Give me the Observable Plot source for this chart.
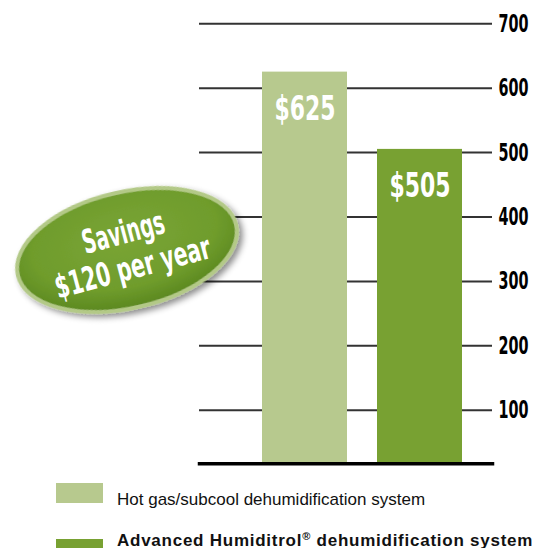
<!DOCTYPE html>
<html><head><meta charset="utf-8">
<script src="https://cdn.jsdelivr.net/npm/d3@7"></script>
<script src="https://cdn.jsdelivr.net/npm/@observablehq/plot@0.6"></script>
<style>
body{margin:0;background:#fff;}
#wrap{position:relative;width:548px;height:548px;overflow:hidden;background:#fff;}
#wrap svg{display:block;}
</style></head><body><div id="wrap"></div>
<script>
const systems = ["Hot gas/subcool dehumidification system", "Advanced Humiditrol® dehumidification system"];
const costs = [625, 505];
const costLabels = ["$625", "$505"];
const colors = ["#b7c98e", "#78a132"];
const yTicks = [100, 200, 300, 400, 500, 600, 700];
const savingsLines = ["Savings", "$120 per year"];
const legendWeights = ["normal", "bold"];

const data = systems.map((s, i) => ({system: s, cost: costs[i], label: costLabels[i]}));
const condensed = '"Liberation Sans Narrow","DejaVu Sans Condensed","Roboto Condensed",sans-serif';

const plot = Plot.plot({
  width: 548, height: 470,
  marginLeft: 199, marginRight: 56, marginTop: 0, marginBottom: 6.7,
  x: {type: "band", domain: systems, range: [232.4, 492.3], padding: 0.26, axis: null},
  y: {domain: [16.8, 736.2], axis: null},
  color: {domain: systems, range: colors},
  style: {background: "#fff", overflow: "visible"},
  marks: [
    Plot.ruleY(yTicks, {stroke: "#333", strokeWidth: 2}),
    Plot.barY(data, {x: "system", y: "cost", fill: "system", clip: true}),
    Plot.frame({anchor: "bottom", stroke: "#000", strokeWidth: 3.5}),
    Plot.axisY(yTicks, {anchor: "right", label: null, tickSize: 0, tickPadding: 6, fontSize: 25, fontWeight: "bold",
      fontFamily: condensed, fill: "#000", textAnchor: "start"}),
    Plot.text(data, {x: "system", y: "cost", text: "label", dy: 37, fill: "#fff", fontSize: 34,
      fontWeight: "bold", fontFamily: condensed, lineAnchor: "middle"})
  ]
});

const svg = d3.select(plot);
// compress condensed text to match the narrow display face
svg.selectAll('g[aria-label="y-axis tick label"] text').attr("textLength", 30).attr("lengthAdjust", "spacingAndGlyphs");
svg.selectAll('g[aria-label="text"] text').attr("textLength", 61).attr("lengthAdjust", "spacingAndGlyphs");

// Savings badge
const defs = svg.append("defs");
const grad = defs.append("radialGradient").attr("id", "badgeGrad").attr("cx", "50%").attr("cy", "40%").attr("r", "60%");
grad.append("stop").attr("offset", "0%").attr("stop-color", "#7aa535");
grad.append("stop").attr("offset", "70%").attr("stop-color", "#6f9c2c");
grad.append("stop").attr("offset", "100%").attr("stop-color", "#5a871f");
const filt = defs.append("filter").attr("id", "shadow").attr("x", "-20%").attr("y", "-20%").attr("width", "150%").attr("height", "150%");
filt.append("feDropShadow").attr("dx", 3).attr("dy", 4).attr("stdDeviation", 3).attr("flood-color", "#000").attr("flood-opacity", 0.45);

const badge = svg.append("g").attr("transform", "translate(127,250) rotate(-13)");
badge.append("ellipse").attr("rx", 112).attr("ry", 58)
  .attr("fill", "url(#badgeGrad)").attr("stroke", "#b3c987").attr("stroke-width", 4)
  .attr("filter", "url(#shadow)");
const bt = svg.append("g").attr("transform", "translate(128,250) rotate(-15)");
bt.selectAll("text").data(savingsLines).join("text")
  .attr("x", 0).attr("y", (d, i) => i === 0 ? -7 : 29)
  .attr("text-anchor", "middle")
  .attr("fill", "#fff").attr("font-weight", "bold").attr("font-size", 33)
  .attr("font-family", condensed)
  .attr("textLength", (d, i) => i === 0 ? 84 : 160).attr("lengthAdjust", "spacingAndGlyphs")
  .text(d => d);

document.getElementById("wrap").appendChild(plot);

// Legend below the chart
const leg = d3.select("#wrap").append("svg").attr("width", 548).attr("height", 78);
const rows = leg.selectAll("g").data(systems).join("g")
  .attr("transform", (d, i) => `translate(0,${13 + i * 56})`);
rows.append("rect").attr("x", 56).attr("y", 0).attr("width", 47).attr("height", 20)
  .attr("fill", (d, i) => colors[i]);
const lt = rows.append("text").attr("x", 117).attr("y", (d, i) => i === 0 ? 22 : 7)
  .attr("font-family", '"Liberation Sans", Arial, sans-serif').attr("font-size", 17)
  .attr("letter-spacing", (d, i) => i === 0 ? 0 : 0.75)
  .attr("font-weight", (d, i) => legendWeights[i]).attr("fill", "#111");
lt.each(function(d) {
  const t = d3.select(this);
  d.split(/(®)/).forEach(part => {
    if (!part) return;
    const sp = t.append("tspan").text(part);
    if (part === "®") sp.attr("font-size", 11).attr("dy", -6);
    else if (t.selectAll("tspan").size() > 1 && d.includes("®")) sp.attr("dy", 6);
  });
});
</script></body></html>
